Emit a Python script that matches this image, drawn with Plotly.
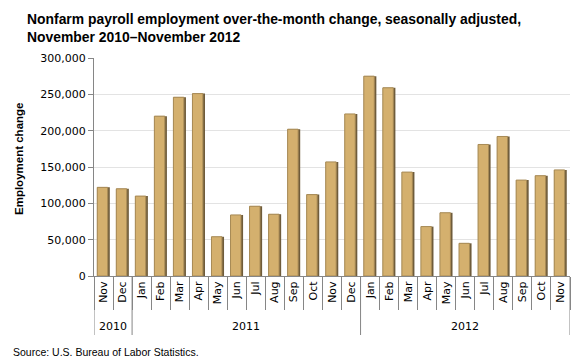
import plotly.graph_objects as go

months = ["Nov", "Dec",
          "Jan", "Feb", "Mar", "Apr", "May", "Jun", "Jul", "Aug", "Sep", "Oct", "Nov", "Dec",
          "Jan", "Feb", "Mar", "Apr", "May", "Jun", "Jul", "Aug", "Sep", "Oct", "Nov"]
years = ["2010"] * 2 + ["2011"] * 12 + ["2012"] * 11
change = [122000, 120000,
          110000, 220000, 246000, 251000, 54000, 84000, 96000, 85000, 202000, 112000, 157000, 223000,
          275000, 259000, 143000, 68000, 87000, 45000, 181000, 192000, 132000, 138000, 146000]
y_ticks = [0, 50000, 100000, 150000, 200000, 250000, 300000]
y_tick_labels = ["0", "50,000", "100,000", "150,000", "200,000", "250,000", "300,000"]

categories = [f"{m} {y}" for m, y in zip(months, years)]

tick_font = "DejaVu Sans"
title_font = "Liberation Sans"

# plot area in page pixels (the page body adds an 8px margin around the figure)
PL, PT, PW, PH = 86, 50, 476, 218


def px_x(px):
    return (px - 8 - PL) / PW


def px_y(py):
    return 1 - (py - 8 - PT) / PH


fig = go.Figure()
# shaded 3-D look: dark shadow bar behind a slightly narrower gold face
fig.add_trace(go.Bar(
    x=categories, y=change,
    width=0.66, offset=-0.33,
    marker=dict(color="#6F5C3B", line=dict(width=0)),
    hoverinfo="skip",
))
fig.add_trace(go.Bar(
    x=categories, y=change,
    width=0.55, offset=-0.33,
    marker=dict(color="#D4B06E", line=dict(color="#A88B56", width=1)),
    hoverinfo="y",
))

fig.update_layout(
    width=572, height=352,
    margin=dict(l=PL, r=572 - PL - PW, t=PT, b=352 - PT - PH),
    paper_bgcolor="white", plot_bgcolor="white",
    barmode="overlay",
    showlegend=False,
    font=dict(family=tick_font, size=11, color="black"),
    xaxis=dict(
        type="category",
        categoryorder="array", categoryarray=categories,
        tickvals=categories, ticktext=months,
        tickangle=-90,
        range=[-0.5, len(categories) - 0.5],
        tickson="boundaries",
        showline=True, linecolor="#868686", linewidth=1,
        ticks="outside", ticklen=33, tickcolor="#868686",
        tickfont=dict(size=11, family=tick_font),
        automargin=False,
    ),
    yaxis=dict(
        range=[0, 300000],
        tickvals=y_ticks, ticktext=y_tick_labels,
        showgrid=True, gridcolor="#E3E3E3", gridwidth=1,
        showline=True, linecolor="#868686", linewidth=1,
        ticks="outside", ticklen=5, tickcolor="#868686",
        zeroline=False,
        tickfont=dict(size=11, family=tick_font),
        automargin=False,
    ),
)

# title
fig.add_annotation(
    text="<b>Nonfarm payroll employment over-the-month change, seasonally adjusted,<br>November 2010\u2013November 2012</b>",
    xref="paper", yref="paper", x=px_x(25), y=px_y(9),
    xanchor="left", yanchor="top", align="left", showarrow=False,
    font=dict(size=13.9, family=title_font, color="black"),
)

# y-axis title
fig.add_annotation(
    text="<b>Employment change</b>", textangle=-90,
    xref="paper", yref="paper", x=px_x(19), y=px_y(159),
    xanchor="center", yanchor="middle", showarrow=False,
    font=dict(size=11.5, family=title_font, color="black"),
)

# year group labels and dividers
year_groups = [("2010", 0, 1), ("2011", 2, 13), ("2012", 14, 24)]
for label, i0, i1 in year_groups:
    fig.add_annotation(
        text=label, xref="x", yref="paper", x=(i0 + i1) / 2, y=-50 / PH,
        xanchor="center", yanchor="middle", showarrow=False,
        font=dict(size=11, family=tick_font),
    )
for xb in [-0.5, 1.5, 13.5, 24.5]:
    fig.add_shape(type="line", xref="x", yref="paper", x0=xb, x1=xb, y0=0, y1=-59 / PH,
                  line=dict(color="#868686", width=1))

# source
fig.add_annotation(
    text="Source: U.S. Bureau of Labor Statistics.",
    xref="paper", yref="paper", x=px_x(11), y=px_y(352),
    xanchor="left", yanchor="middle", showarrow=False,
    font=dict(size=10.5, family=title_font),
)

fig.write_html("out.html")
